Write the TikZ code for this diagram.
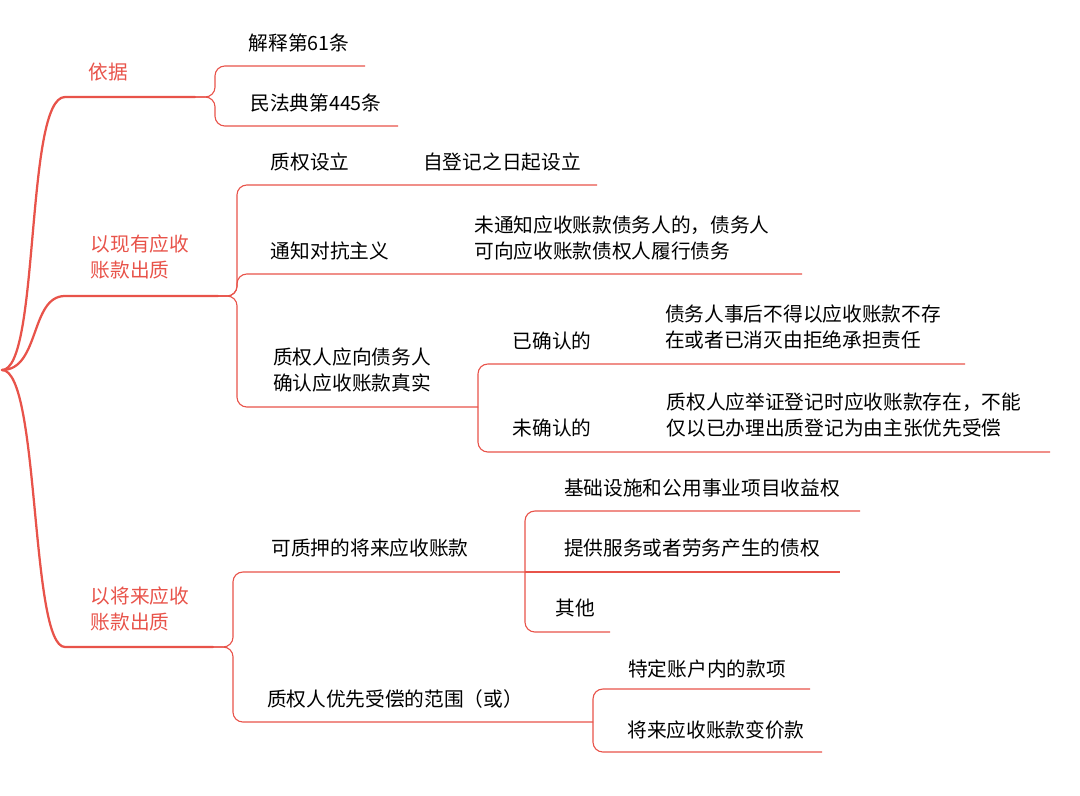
\documentclass[tikz,border=0pt]{standalone}
\usepackage{fontspec}
\setmainfont{Noto Sans CJK SC}
\definecolor{branch}{HTML}{E8534A}
\begin{document}
\begin{tikzpicture}[x=0.025cm, y=-0.025cm,
    every node/.style={font=\fontsize{14}{19}\selectfont, align=left, inner sep=0pt},
    topic/.style={text=branch},
    main/.style={draw=branch, line width=1.6pt, line cap=round},
    twig/.style={draw=branch, line width=0.8pt, rounded corners=7pt}]
  \useasboundingbox (0,0) rectangle (1080,796);
  % root
  \coordinate (root) at (2,370);
  % first level
  \node[topic] (yiju) at (108,72) {依据};
  \node[topic] (xianyou) at (140,257) {以现有应收\\账款出质};
  \node[topic] (jianglai) at (140,609) {以将来应收\\账款出质};
  \coordinate (yijuL) at (65,97);   \coordinate (yijuR) at (195,97);
  \coordinate (xianL) at (65,296);  \coordinate (xianR) at (218,296);
  \coordinate (jiangL) at (65,647); \coordinate (jiangR) at (213,647);
  \draw[main] (root) .. controls (40,370) and (25,97) .. (yijuL) -- (yijuR);
  \draw[main] (root) .. controls (40,370) and (30,296) .. (xianL) -- (xianR);
  \draw[main] (root) .. controls (40,370) and (30,647) .. (jiangL) -- (jiangR);

  % 依据
  \node (jieshi) at (299,43) {解释第61条};
  \node (minfa) at (316,103) {民法典第445条};
  \coordinate (jieshiR) at (365,66);
  \coordinate (minfaR) at (398,126);
  \draw[twig] (yijuR) -- (215,97) |- (jieshiR);
  \draw[twig] (yijuR) -- (215,97) |- (minfaR);

  % 以现有应收账款出质
  \node (sheli) at (310,162) {质权设立};
  \node (sheliT) at (502,162) {自登记之日起设立};
  \node (tongzhi) at (330,251) {通知对抗主义};
  \node (tongzhiT) at (622,238) {未通知应收账款债务人的，债务人\\可向应收账款债权人履行债务};
  \node (queren) at (352,370) {质权人应向债务人\\确认应收账款真实};
  \coordinate (sheliR) at (597,185);
  \coordinate (tongzhiR) at (802,274);
  \coordinate (querenR) at (478,407);
  \draw[twig] (xianR) -- (237,296) |- (sheliR);
  \draw[twig] (xianR) -- (237,296) |- (tongzhiR);
  \draw[twig] (xianR) -- (237,296) |- (querenR);
  \node (yiqr) at (552,341) {已确认的};
  \node (yiqrT) at (803,327) {债务人事后不得以应收账款不存\\在或者已消灭由拒绝承担责任};
  \node (weiqr) at (552,428) {未确认的};
  \node (weiqrT) at (844,415) {质权人应举证登记时应收账款存在，不能\\仅以已办理出质登记为由主张优先受偿};
  \coordinate (yiqrR) at (965,364);
  \coordinate (weiqrR) at (1050,452);
  \draw[twig] (querenR) |- (yiqrR);
  \draw[twig] (querenR) |- (weiqrR);

  % 以将来应收账款出质
  \node (kezhi) at (370,548) {可质押的将来应收账款};
  \node (fanwei) at (395,699) {质权人优先受偿的范围（或）};
  \coordinate (kezhiR) at (525,572);
  \coordinate (fanweiR) at (593,722);
  \draw[twig] (jiangR) -- (233,647) |- (kezhiR);
  \draw[twig] (jiangR) -- (233,647) |- (fanweiR);
  \node (jichu) at (702,488) {基础设施和公用事业项目收益权};
  \node (fuwu) at (692,548) {提供服务或者劳务产生的债权};
  \node (qita) at (575,608) {其他};
  \coordinate (jichuR) at (860,511);
  \coordinate (fuwuR) at (840,572);
  \coordinate (qitaR) at (610,632);
  \draw[twig] (kezhiR) |- (jichuR);
  \draw[twig] (kezhiR) -- (fuwuR);
  \draw[twig] (kezhiR) |- (qitaR);
  \node (zhanghu) at (707,669) {特定账户内的款项};
  \node (bianjia) at (716,730) {将来应收账款变价款};
  \coordinate (zhanghuR) at (810,689);
  \coordinate (bianjiaR) at (822,752);
  \draw[twig] (fanweiR) |- (zhanghuR);
  \draw[twig] (fanweiR) |- (bianjiaR);
\end{tikzpicture}
\end{document}
